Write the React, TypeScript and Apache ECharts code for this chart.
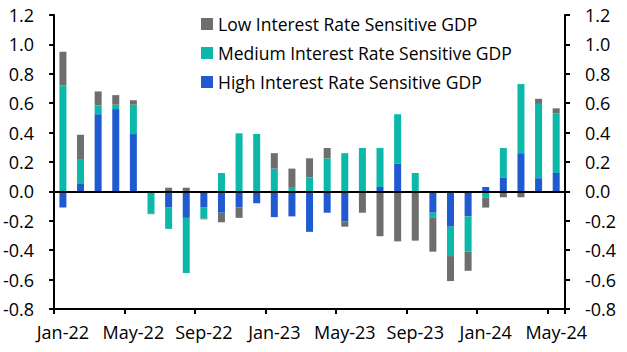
import React, { useEffect, useRef } from "react";
import * as echarts from "echarts";

const categories = [
  "Jan-22", "Feb-22", "Mar-22", "Apr-22", "May-22", "Jun-22", "Jul-22", "Aug-22", "Sep-22", "Oct-22", "Nov-22", "Dec-22",
  "Jan-23", "Feb-23", "Mar-23", "Apr-23", "May-23", "Jun-23", "Jul-23", "Aug-23", "Sep-23", "Oct-23", "Nov-23", "Dec-23",
  "Jan-24", "Feb-24", "Mar-24", "Apr-24", "May-24",
];

const highSensitive = [
  -0.11, 0.055, 0.525, 0.56, 0.39, 0, -0.11, -0.18, -0.11, -0.145, -0.11, -0.08,
  -0.175, -0.17, -0.275, -0.145, -0.205, 0, 0.03, 0.19, 0, -0.145, -0.24, -0.17,
  0.03, 0.095, 0.26, 0.09, 0.125,
];

const mediumSensitive = [
  0.72, 0.165, 0.06, 0.03, 0.2, -0.15, -0.145, -0.375, -0.075, 0.125, 0.395, 0.39,
  0.155, 0.03, 0.095, 0.225, 0.26, 0.295, 0.265, 0.335, 0.125, -0.035, -0.2, -0.24,
  -0.04, 0.2, 0.47, 0.505, 0.405,
];

const lowSensitive = [
  0.23, 0.165, 0.095, 0.065, 0.03, -0.005, 0.025, 0.025, -0.005, -0.065, -0.07, 0,
  0.105, 0.125, 0.13, 0.07, -0.035, -0.145, -0.305, -0.34, -0.335, -0.23, -0.17, -0.13,
  -0.07, -0.04, -0.04, 0.035, 0.035,
];

const seriesNames = [
  "Low Interest Rate Sensitive GDP",
  "Medium Interest Rate Sensitive GDP",
  "High Interest Rate Sensitive GDP",
];

const FONT = "'Open Sans', 'Noto Sans', sans-serif";

export default function App() {
  const ref = useRef<HTMLDivElement>(null);

  useEffect(() => {
    if (!ref.current) return;
    const chart = echarts.init(ref.current, undefined, { renderer: "svg" });

    const yAxisCommon = {
      type: "value" as const,
      min: -0.8,
      max: 1.2,
      interval: 0.2,
      splitLine: { show: false },
      axisLine: { show: true, lineStyle: { color: "#000", width: 2 } },
      axisTick: { show: true, length: 5, lineStyle: { color: "#000", width: 2 } },
      axisLabel: {
        color: "#000",
        fontFamily: FONT,
        fontSize: 18,
        margin: 20,
        formatter: (v: number) => v.toFixed(1),
      },
    };

    const barCommon = {
      type: "bar" as const,
      stack: "total",
      barWidth: 7,
    };

    chart.setOption({
      animation: false,
      grid: { left: 54, right: 62, top: 15, bottom: 43, containLabel: false },
      legend: {
        data: seriesNames,
        orient: "vertical",
        left: 196,
        top: 10,
        itemWidth: 12,
        itemHeight: 12,
        itemGap: 11,
        icon: "rect",
        textStyle: { color: "#000", fontFamily: FONT, fontSize: 17.5 },
      },
      xAxis: {
        type: "category",
        data: categories,
        boundaryGap: true,
        axisLine: { show: true, onZero: false, lineStyle: { color: "#000", width: 2 } },
        axisTick: { show: true, interval: 3, length: 5, alignWithLabel: false, lineStyle: { color: "#000", width: 2 } },
        axisLabel: { interval: 3, color: "#000", fontFamily: FONT, fontSize: 18, margin: 14 },
        splitLine: { show: false },
      },
      yAxis: [
        { ...yAxisCommon, position: "left" },
        { ...yAxisCommon, position: "right" },
      ],
      series: [
        {
          ...barCommon,
          name: seriesNames[2],
          data: highSensitive,
          itemStyle: { color: "#1f5ad0" },
          markLine: {
            silent: true,
            symbol: "none",
            label: { show: false },
            lineStyle: { color: "#000", width: 2, type: "solid" },
            data: [{ yAxis: 0 }],
            z: 10,
          },
        },
        { ...barCommon, name: seriesNames[1], data: mediumSensitive, itemStyle: { color: "#0cb8a9" } },
        { ...barCommon, name: seriesNames[0], data: lowSensitive, itemStyle: { color: "#6e6e6e" } },
      ],
    });

    return () => chart.dispose();
  }, []);

  return (
    <div
      ref={ref}
      style={{ position: "fixed", left: 0, top: 0, width: 627, height: 352, background: "#fff" }}
    />
  );
}
